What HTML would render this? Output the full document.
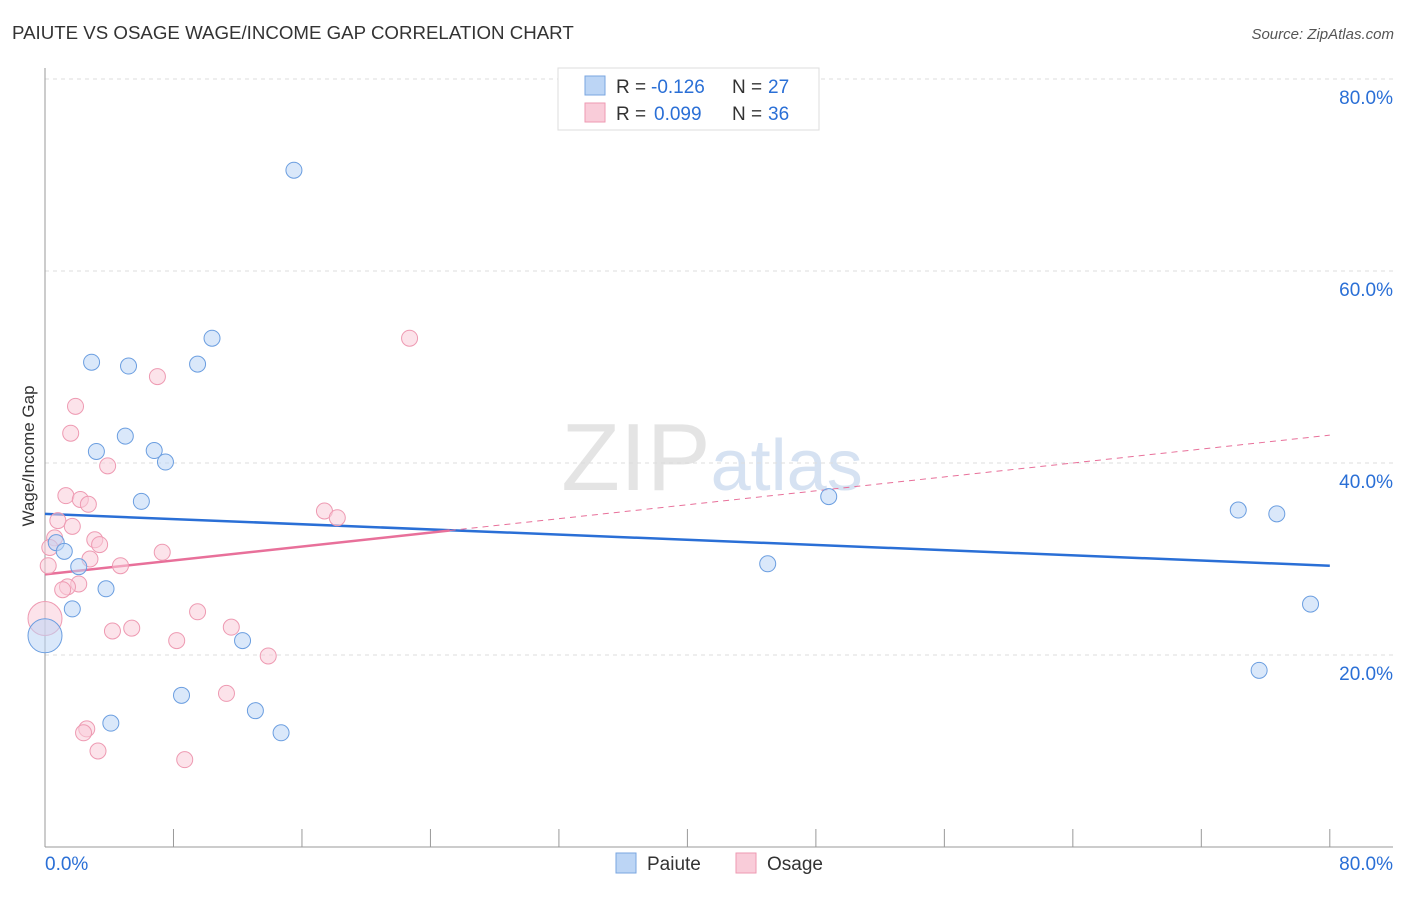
<!DOCTYPE html>
<html><head><meta charset="utf-8"><style>
body{margin:0;background:#fff;font-family:"Liberation Sans",sans-serif;}
svg text{font-family:"Liberation Sans",sans-serif;}
</style></head><body>
<svg id="chart" width="1406" height="892" xmlns="http://www.w3.org/2000/svg">
<text x="12" y="39" font-size="18.7" fill="#333">PAIUTE VS OSAGE WAGE/INCOME GAP CORRELATION CHART</text>
<text x="1394" y="39" font-size="15" fill="#555" font-style="italic" text-anchor="end">Source: ZipAtlas.com</text>
<text x="712" y="490" font-size="96" fill="#e4e4e4" text-anchor="middle" font-family="Liberation Serif">ZIP<tspan fill="#d6e2f2" font-family="Liberation Sans" font-size="72">atlas</tspan></text>
<g id="grid"></g>
<g id="axes"></g>
<text transform="translate(34,456) rotate(-90)" font-size="17" fill="#333" text-anchor="middle">Wage/Income Gap</text>
<g id="lines"></g>
<g id="points"></g>
<g>
<rect x="558" y="68" width="261" height="62" fill="#fff" stroke="#ddd"/>
<rect x="585" y="76" width="20" height="19" fill="#bcd5f5" stroke="#7aa6e0"/>
<text x="616" y="93" font-size="19" fill="#333">R =</text>
<text x="651" y="93" font-size="19" fill="#2a6fd6">-0.126</text>
<text x="732" y="93" font-size="19" fill="#333">N =</text>
<text x="768" y="93" font-size="19" fill="#2a6fd6">27</text>
<rect x="585" y="103" width="20" height="19" fill="#f9ccd9" stroke="#ee9ab2"/>
<text x="616" y="120" font-size="19" fill="#333">R =</text>
<text x="654" y="120" font-size="19" fill="#2a6fd6">0.099</text>
<text x="732" y="120" font-size="19" fill="#333">N =</text>
<text x="768" y="120" font-size="19" fill="#2a6fd6">36</text>
</g>
<g>
<rect x="616" y="853" width="20" height="20" fill="#bcd5f5" stroke="#7aa6e0"/>
<text x="647" y="870" font-size="19" fill="#333">Paiute</text>
<rect x="736" y="853" width="20" height="20" fill="#f9ccd9" stroke="#ee9ab2"/>
<text x="767" y="870" font-size="19" fill="#333">Osage</text>
</g>
</svg>
<script>
const paiuteX=[15.5,10.4,2.9,5.2,9.5,3.2,5.0,6.8,7.5,6.0,48.8,0.7,1.2,2.1,3.8,1.7,0,12.3,8.5,4.1,13.1,14.7,45.0,74.3,76.7,78.8,75.6];
const paiuteY=[70.5,53.0,50.5,50.1,50.3,41.2,42.8,41.3,40.1,36.0,36.5,31.7,30.8,29.2,26.9,24.8,22.0,21.5,15.8,12.9,14.2,11.9,29.5,35.1,34.7,25.3,18.4];
const osageX=[22.7,7.0,1.9,1.6,3.9,1.3,2.2,2.7,0.8,1.7,0.6,3.1,3.4,0.3,2.8,4.7,7.3,0.2,2.1,1.4,1.1,17.4,18.2,9.5,5.4,4.2,11.6,8.2,13.9,11.3,2.6,2.4,3.3,8.7,0];
const osageY=[53.0,49.0,45.9,43.1,39.7,36.6,36.2,35.7,34.0,33.4,32.2,32.0,31.5,31.2,30.0,29.3,30.7,29.3,27.4,27.1,26.8,35.0,34.3,24.5,22.8,22.5,22.9,21.5,19.9,16.0,12.3,11.9,10.0,9.1,23.8];
const paiuteTrend=[34.7,29.3];
const osageTrend=[28.4,42.9];
const yTicks=[20,40,60,80];
const X=v=>45+v*16.06, Y=v=>847-v*9.6;
const NS='http://www.w3.org/2000/svg';
function mk(t,a,p){const e=document.createElementNS(NS,t);for(const k in a)e.setAttribute(k,a[k]);p.appendChild(e);return e;}
const grid=document.getElementById('grid'),axes=document.getElementById('axes');
yTicks.forEach(v=>{
 const l=mk('line',{x1:45,x2:1393,y1:Y(v),y2:Y(v),stroke:'#ddd','stroke-dasharray':'4,4'},grid);
 
 
 const t=mk('text',{x:1393,y:Y(v)+25,'font-size':19,fill:'#2a6fd6','text-anchor':'end'},grid);t.textContent=v.toFixed(1)+'%';
 
 
});
mk('line',{x1:45,x2:45,y1:68,y2:847,stroke:'#999'},axes);
mk('line',{x1:45,x2:1393,y1:847,y2:847,stroke:'#999'},axes);
for(let i=0;i<=10;i++){const tk=mk('line',{x1:X(i*8),x2:X(i*8),y1:829,y2:847,stroke:'#999'},axes);
 
 }
let t=mk('text',{x:45,y:870,'font-size':19,fill:'#2a6fd6'},axes);t.textContent='0.0%';


t=mk('text',{x:1393,y:870,'font-size':19,fill:'#2a6fd6','text-anchor':'end'},axes);t.textContent='80.0%';


const pts=document.getElementById('points');
function dots(xs,ys,fill,stroke,name){xs.forEach((x,i)=>{const big=x===0;const c=mk('circle',{cx:X(x),cy:Y(ys[i]),r:big?17:8,fill:fill,'fill-opacity':0.55,stroke:stroke,'stroke-width':1},pts);
 
 });}
dots(osageX,osageY,'#f9ccd9','#ee9ab2','osage-point');
dots(paiuteX,paiuteY,'#bcd5f5','#6b9ee0','paiute-point');
const ln=document.getElementById('lines');
let l=mk('line',{x1:X(0),y1:Y(paiuteTrend[0]),x2:X(80),y2:Y(paiuteTrend[1]),stroke:'#2a6fd6','stroke-width':2.5},ln);


const oy=x=>osageTrend[0]+(osageTrend[1]-osageTrend[0])*x/80;
l=mk('line',{x1:X(0),y1:Y(oy(0)),x2:X(25.2),y2:Y(oy(25.2)),stroke:'#e8709a','stroke-width':2.5},ln);


l=mk('line',{x1:X(25.2),y1:Y(oy(25.2)),x2:X(80),y2:Y(oy(80)),stroke:'#e8709a','stroke-width':1,'stroke-dasharray':'6,5'},ln);


</script>
</body></html>
